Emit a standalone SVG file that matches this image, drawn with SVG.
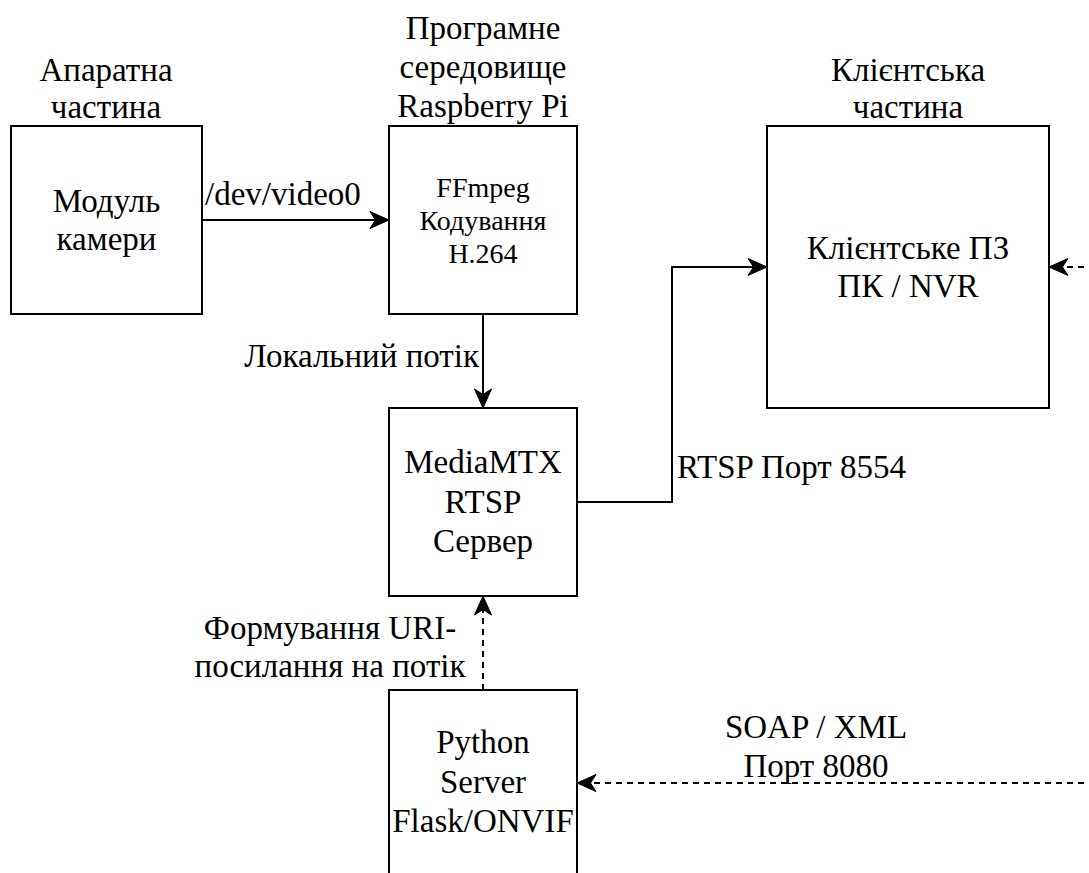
<svg xmlns="http://www.w3.org/2000/svg" width="1089" height="873" viewBox="0 0 1089 873">
<style>
  .box { fill: #ffffff; stroke: #000000; stroke-width: 2; }
  .t { font-family: "Liberation Serif", "Times New Roman", serif; font-size: 33px; fill: #000000; text-anchor: middle; }
  .ts { font-family: "Liberation Serif", "Times New Roman", serif; font-size: 28px; fill: #000000; text-anchor: middle; }
  .lbl { font-family: "Liberation Serif", "Times New Roman", serif; font-size: 33px; fill: #000000; }
  .edge { fill: none; stroke: #000000; stroke-width: 2; }
  .dash { stroke-dasharray: 6 5; }
</style>
<defs>
  <marker id="arrow" markerUnits="userSpaceOnUse" markerWidth="24" markerHeight="20" viewBox="-20 -10 22 20" refX="0" refY="0" orient="auto" overflow="visible">
    <path d="M 0 0 L -19 -8.5 L -13.5 0 L -19 8.5 Z" fill="#000000" stroke="#000000" stroke-width="1" stroke-dasharray="none"/>
  </marker>
</defs>
<rect width="1089" height="873" fill="#ffffff"/>

<g id="title-hw">
  <text class="t" x="106" y="81">Апаратна</text>
  <text class="t" x="106" y="118">частина</text>
</g>
<g id="title-sw">
  <text class="t" x="483" y="39">Програмне</text>
  <text class="t" x="483" y="78">середовище</text>
  <text class="t" x="483" y="117">Raspberry Pi</text>
</g>
<g id="title-client">
  <text class="t" x="908" y="81">Клієнтська</text>
  <text class="t" x="908" y="118">частина</text>
</g>

<g id="connectors">
  <path class="edge" d="M 202 220 L 389 220" marker-end="url(#arrow)"/>
  <path class="edge" d="M 483 314 L 483 408" marker-end="url(#arrow)"/>
  <path class="edge" d="M 577 502 L 672 502 L 672 267 L 767 267" marker-end="url(#arrow)"/>
  <path class="edge dash" d="M 483 690 L 483 596" marker-end="url(#arrow)"/>
  <path class="edge dash" d="M 1095 783 L 577 783" marker-end="url(#arrow)"/>
  <path class="edge dash" d="M 1095 267 L 1049 267" marker-end="url(#arrow)"/>
  <text class="lbl" x="205" y="205">/dev/video0</text>
  <text class="lbl" x="479" y="367" text-anchor="end">Локальний потік</text>
  <text class="lbl" x="677" y="478">RTSP Порт 8554</text>
  <text class="t" x="330" y="639">Формування URI-</text>
  <text class="t" x="330" y="677">посилання на потік</text>
  <text class="t" x="816" y="738">SOAP / XML</text>
  <text class="t" x="816" y="777">Порт 8080</text>
</g>

<g id="camera">
  <rect class="box" x="11" y="126" width="191" height="188"/>
  <text class="t" x="106.5" y="212">Модуль</text>
  <text class="t" x="106.5" y="250">камери</text>
</g>
<g id="ffmpeg">
  <rect class="box" x="389" y="126" width="188" height="188"/>
  <text class="ts" x="483" y="197">FFmpeg</text>
  <text class="ts" x="483" y="230">Кодування</text>
  <text class="ts" x="483" y="263">H.264</text>
</g>
<g id="client">
  <rect class="box" x="767" y="126" width="282" height="282"/>
  <text class="t" x="908" y="259">Клієнтське ПЗ</text>
  <text class="t" x="908" y="297">ПК / NVR</text>
</g>
<g id="mediamtx">
  <rect class="box" x="389" y="408" width="188" height="188"/>
  <text class="t" x="483" y="473">MediaMTX</text>
  <text class="t" x="483" y="513">RTSP</text>
  <text class="t" x="483" y="552">Сервер</text>
</g>
<g id="python">
  <rect class="box" x="389" y="690" width="188" height="200"/>
  <text class="t" x="483" y="753">Python</text>
  <text class="t" x="483" y="793">Server</text>
  <text class="t" x="483" y="832">Flask/ONVIF</text>
</g>
</svg>
